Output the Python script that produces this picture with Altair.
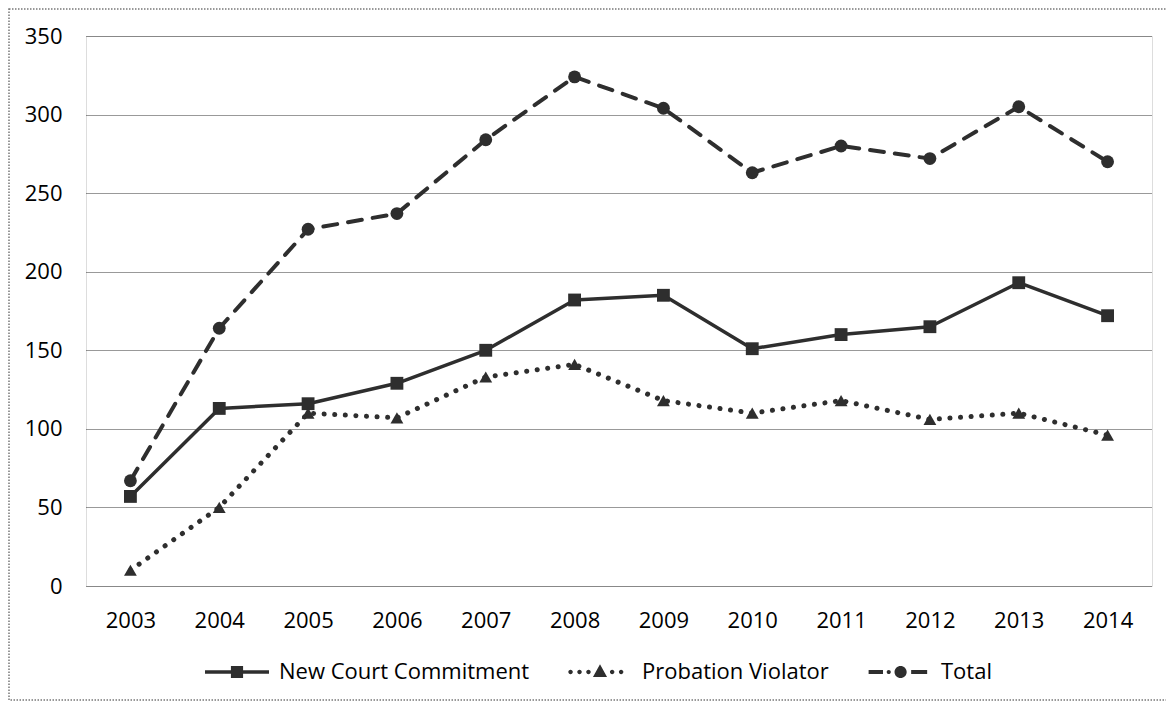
import altair as alt
import pandas as pd

years = ["2003", "2004", "2005", "2006", "2007", "2008", "2009", "2010", "2011", "2012", "2013", "2014"]
new_court = [57, 113, 116, 129, 150, 182, 185, 151, 160, 165, 193, 172]
probation = [10, 50, 110, 107, 133, 141, 118, 110, 118, 106, 110, 96]
total = [67, 164, 227, 237, 284, 324, 304, 263, 280, 272, 305, 270]
series_names = ["New Court Commitment", "Probation Violator", "Total"]
y_ticks = [0, 50, 100, 150, 200, 250, 300, 350]

rows = []
for name, vals in zip(series_names, [new_court, probation, total]):
    for yr, v in zip(years, vals):
        rows.append({"year": yr, "value": v, "series": name})
df = pd.DataFrame(rows)

INK = "#2e2e2e"
FONT = "Open Sans"


def circ(x, r):
    return f"M{x - r},0A{r},{r} 0 1,0 {x + r},0A{r},{r} 0 1,0 {x - r},0Z"


def bar(x0, x1, h):
    return f"M{x0},{-h}H{x1}V{h}H{x0}Z"


legend_paths = [
    bar(-1, 1, 0.055) + "M-0.19,-0.19H0.19V0.19H-0.19Z",
    circ(-0.92, 0.07) + circ(-0.64, 0.07) + circ(-0.36, 0.07)
    + "M0,-0.24L0.22,0.16L-0.22,0.16Z" + circ(0.38, 0.07) + circ(0.66, 0.07),
    bar(-0.95, -0.5, 0.065) + circ(-0.32, 0.065) + circ(0.05, 0.19) + bar(0.38, 0.88, 0.065),
]

x_enc = alt.X("year:N", sort=years, scale=alt.Scale(type="point", padding=0.5),
              axis=alt.Axis(title=None, labelAngle=0, ticks=False, domain=False,
                            labelFontSize=22, labelFont=FONT, labelColor="#000",
                            labelPadding=24, grid=False))
y_enc = alt.Y("value:Q", scale=alt.Scale(domain=[0, 350], nice=False),
              axis=alt.Axis(title=None, values=y_ticks, ticks=False, domain=False,
                            labelFontSize=22, labelFont=FONT, labelColor="#000",
                            labelPadding=24, grid=True, gridColor="#333",
                            gridDash=[1, 1], gridWidth=1))

base = alt.Chart(df)

line_styles = {
    "New Court Commitment": dict(strokeWidth=3.5),
    "Probation Violator": dict(strokeWidth=5, strokeDash=[0.1, 10.5]),
    "Total": dict(strokeWidth=4, strokeDash=[14, 11]),
}
marker_shapes = {"New Court Commitment": "square", "Probation Violator": "triangle-up", "Total": "circle"}

layers = []
for name in series_names:
    sub = base.transform_filter(alt.datum.series == name)
    layers.append(sub.mark_line(strokeCap="round", strokeJoin="round", color=INK,
                                **line_styles[name]).encode(x=x_enc, y=y_enc))
    layers.append(sub.mark_point(filled=True, opacity=1, color=INK, size=165,
                                 shape=marker_shapes[name]).encode(x=x_enc, y=y_enc))

legend_layer = base.transform_filter("false").mark_point(
    filled=True, opacity=1, color=INK
).encode(
    x=x_enc, y=y_enc,
    shape=alt.Shape("series:N", scale=alt.Scale(domain=series_names, range=legend_paths),
                    legend=alt.Legend(title=None, orient="none", legendX=119, legendY=604,
                                      direction="horizontal", symbolSize=4096,
                                      symbolFillColor=INK, symbolStrokeWidth=0,
                                      symbolOpacity=1,
                                      labelFont=FONT, labelFontSize=22, labelColor="#000",
                                      labelOffset=10, columnPadding=38, padding=0,
                                      labelLimit=400)),
)

border = alt.Chart(pd.DataFrame({"a": [0]})).mark_rect(
    fill=None, stroke="#777", strokeWidth=1.5, strokeDash=[1.5, 1.5]
).encode(
    x=alt.value(-77), x2=alt.value(1100), y=alt.value(-27), y2=alt.value(664)
)

chart = alt.layer(border, *layers, legend_layer).properties(
    width=1066, height=550,
    autosize=alt.AutoSizeParams(type="none"),
    padding={"left": 78, "top": 28, "right": 14, "bottom": 115},
).configure_view(stroke=None).configure(background="white")

chart.save("out.html", embed_options={"renderer": "svg", "actions": False})
